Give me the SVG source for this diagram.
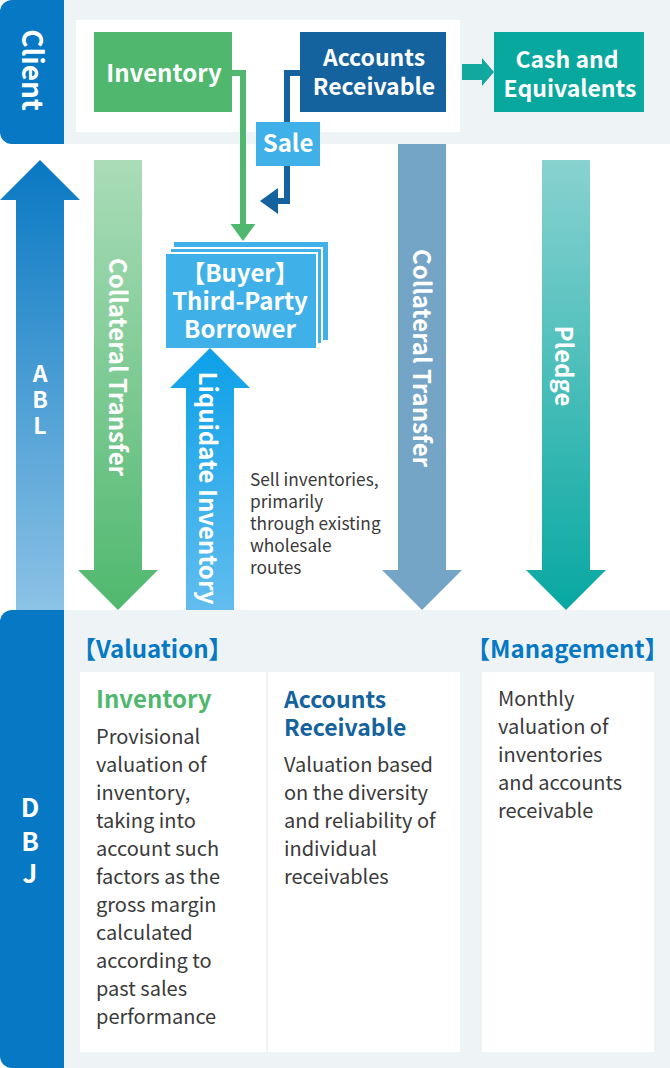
<svg xmlns="http://www.w3.org/2000/svg" width="670" height="1068" viewBox="0 0 670 1068">
<style>
text{font-family:"Noto Sans CJK JP","Noto Sans",sans-serif}
.w{fill:#fff;font-weight:700;text-anchor:middle}
.n{font-size:24px}
.m{font-size:23px}
.v{font-size:24px}
.b{font-size:20px;fill:#3a3a3a;font-weight:400}
.s{font-size:17.300px;fill:#3a3a3a;font-weight:400}
.h{font-size:24px;font-weight:700;fill:#0678c4}
.g{font-size:24px;font-weight:700;fill:#50b86e}
.a{font-size:23px;font-weight:700;fill:#14629e}
</style>
<defs>
<linearGradient id="gAbl" x1="0" y1="0" x2="0" y2="1"><stop offset="0" stop-color="#0878c2"/><stop offset="1" stop-color="#8cc2e6"/></linearGradient>
<linearGradient id="gCol" x1="0" y1="0" x2="0" y2="1"><stop offset="0" stop-color="#aadcb8"/><stop offset="1" stop-color="#50b86e"/></linearGradient>
<linearGradient id="gLiq" x1="0" y1="0" x2="0" y2="1"><stop offset="0" stop-color="#0ca0e8"/><stop offset="1" stop-color="#62bdee"/></linearGradient>
<linearGradient id="gPle" x1="0" y1="0" x2="0" y2="1"><stop offset="0" stop-color="#88d2d0"/><stop offset="1" stop-color="#08a8a2"/></linearGradient>
</defs>
<rect width="670" height="1068" fill="#fff"/>
<g id="client-band">
<rect x="64" y="0" width="606" height="144" fill="#eef3f6"/>
<rect x="76" y="20" width="384" height="112" fill="#fff"/>
<path d="M64 0V144H12A12 12 0 0 1 0 132V12A12 12 0 0 1 12 0Z" fill="#0678c4"/>
<text class="w" transform="translate(34 70) rotate(90)" dominant-baseline="central" style="font-size:28px">Client</text>
</g>
<g id="dbj-band">
<rect x="64" y="610" width="606" height="458" fill="#eef3f6"/>
<path d="M64 610V1068H12A12 12 0 0 1 0 1056V622A12 12 0 0 1 12 610Z" fill="#0678c4"/>
<text class="w" x="30" y="817" style="font-size:26px">D</text>
<text class="w" x="30" y="851" style="font-size:26px">B</text>
<text class="w" x="30" y="883" style="font-size:26px">J</text>
</g>
<g id="connectors" fill="none">
<path d="M16 610V200H0L40 160L80 200H64V610Z" fill="url(#gAbl)"/>
<path d="M94 160H142V570H158L118 610L78 570H94Z" fill="url(#gCol)"/>
<path d="M186 610V388H170L210 348L250 388H234V610Z" fill="url(#gLiq)"/>
<path d="M398 144H446V570H462L422 610L382 570H398Z" fill="#74a4c6"/>
<path d="M542 160H590V570H606L566 610L526 570H542Z" fill="url(#gPle)"/>
<path d="M462 64H482V58L494 72L482 86V80H462Z" fill="#12a79f"/>
<path d="M232 73H243V226" stroke="#50b86e" stroke-width="6"/>
<path d="M230.500 224H255.500L243 241Z" fill="#50b86e"/>
<path d="M300 73H287V201H276" stroke="#14629e" stroke-width="6"/>
<path d="M278 188V214L260 201Z" fill="#14629e"/>
</g>
<g id="inventory"><rect x="94" y="32" width="138" height="80" fill="#50b86e"/><text class="w n" x="164" y="82">Inventory</text></g>
<g id="accounts-receivable"><rect x="300" y="32" width="146" height="80" fill="#14629e"/><text class="w m" x="374" y="66">Accounts</text><text class="w m" x="374" y="95">Receivable</text></g>
<g id="cash"><rect x="494" y="32" width="150" height="80" fill="#08a89f"/><text class="w m" x="567" y="68">Cash and</text><text class="w m" x="570" y="97">Equivalents</text></g>
<g id="sale"><rect x="256" y="122" width="64" height="44" fill="#3fb1e8"/><text class="w n" x="288" y="152">Sale</text></g>
<g id="buyer">
<rect x="174" y="242" width="154" height="98" fill="#3fb1e8"/>
<rect x="170" y="248" width="152" height="96" fill="#3fb1e8" stroke="#fff" stroke-width="2"/>
<rect x="166" y="254" width="150" height="94" fill="#3fb1e8"/>
<path d="M165 253H317V349" fill="none" stroke="#fff" stroke-width="2"/>
<text class="w n" x="240" y="282">【Buyer】</text><text class="w n" x="240" y="310">Third-Party</text><text class="w n" x="240" y="338">Borrower</text>
</g>
<g id="labels">
<text class="w" x="40" y="382" style="font-size:23px">A</text>
<text class="w" x="40" y="408" style="font-size:23px">B</text>
<text class="w" x="40" y="434" style="font-size:23px">L</text>
<text class="w v" transform="translate(119.500 367) rotate(90)" dominant-baseline="central">Collateral Transfer</text>
<text class="w v" transform="translate(209.500 488) rotate(90)" dominant-baseline="central">Liquidate Inventory</text>
<text class="w v" transform="translate(423.500 358) rotate(90)" dominant-baseline="central">Collateral Transfer</text>
<text class="w v" transform="translate(565.500 366) rotate(90)" dominant-baseline="central">Pledge</text>
<text class="s" x="250" y="486">Sell inventories,</text>
<text class="s" x="250" y="508">primarily</text>
<text class="s" x="250" y="530">through existing</text>
<text class="s" x="250" y="552">wholesale</text>
<text class="s" x="250" y="574">routes</text>
</g>
<g id="valuation">
<text class="h" x="72" y="658">【Valuation】</text>
<rect x="80" y="672" width="186" height="380" fill="#fff"/>
<rect x="268" y="672" width="192" height="380" fill="#fff"/>
<text class="g" x="96" y="708">Inventory</text>
<text class="b" x="96" y="744">Provisional</text>
<text class="b" x="96" y="772">valuation of</text>
<text class="b" x="96" y="800">inventory,</text>
<text class="b" x="96" y="828">taking into</text>
<text class="b" x="96" y="856">account such</text>
<text class="b" x="96" y="884">factors as the</text>
<text class="b" x="96" y="912">gross margin</text>
<text class="b" x="96" y="940">calculated</text>
<text class="b" x="96" y="968">according to</text>
<text class="b" x="96" y="996">past sales</text>
<text class="b" x="96" y="1024">performance</text>
<text class="a" x="284" y="708">Accounts</text>
<text class="a" x="284" y="736">Receivable</text>
<text class="b" x="284" y="772">Valuation based</text>
<text class="b" x="284" y="800">on the diversity</text>
<text class="b" x="284" y="828">and reliability of</text>
<text class="b" x="284" y="856">individual</text>
<text class="b" x="284" y="884">receivables</text>
</g>
<g id="management">
<text class="h" x="466" y="658">【Management】</text>
<rect x="482" y="672" width="172" height="380" fill="#fff"/>
<text class="b" x="498" y="706">Monthly</text>
<text class="b" x="498" y="734">valuation of</text>
<text class="b" x="498" y="762">inventories</text>
<text class="b" x="498" y="790">and accounts</text>
<text class="b" x="498" y="818">receivable</text>
</g>
</svg>
